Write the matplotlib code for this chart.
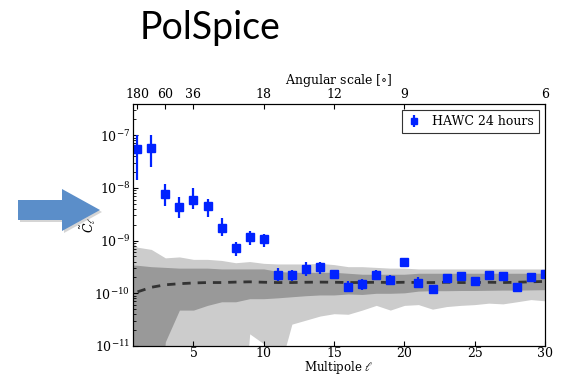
import matplotlib
matplotlib.use('Agg')
import matplotlib.pyplot as plt
from matplotlib.patches import FancyArrow
import numpy as np

# HAWC data points
ell = list(range(1, 31))
cl = [5.5e-8, 5.7e-8, 7.8e-9, 4.3e-9, 6.0e-9, 4.6e-9, 1.7e-9, 7.1e-10, 1.17e-9, 1.06e-9,
      2.2e-10, 2.2e-10, 2.9e-10, 3.1e-10, 2.3e-10, 1.34e-10, 1.48e-10, 2.2e-10, 1.78e-10, 3.9e-10,
      1.57e-10, 1.23e-10, 1.92e-10, 2.1e-10, 1.7e-10, 2.2e-10, 2.1e-10, 1.34e-10, 2.0e-10, 2.3e-10]
cl_hi = [1.0e-7, 1.0e-7, 1.2e-8, 6.6e-9, 9.9e-9, 6.2e-9, 2.7e-9, 9.5e-10, 1.5e-9, 1.34e-9,
         3.0e-10, 2.8e-10, 4.0e-10, 4.0e-10, 2.8e-10, 1.7e-10, 1.84e-10, 2.8e-10, 2.2e-10, 4.7e-10,
         2.0e-10, 1.4e-10, 2.3e-10, 2.5e-10, 2.0e-10, 2.5e-10, 2.5e-10, 1.55e-10, 2.4e-10, 2.6e-10]
cl_lo = [1.4e-8, 2.5e-8, 4.6e-9, 2.7e-9, 3.9e-9, 2.8e-9, 1.2e-9, 5.0e-10, 8.1e-10, 7.7e-10,
         1.7e-10, 1.7e-10, 2.1e-10, 2.3e-10, 1.9e-10, 1.04e-10, 1.15e-10, 1.8e-10, 1.45e-10, 3.4e-10,
         1.3e-10, 1.04e-10, 1.57e-10, 1.8e-10, 1.4e-10, 1.8e-10, 1.8e-10, 1.15e-10, 1.7e-10, 1.9e-10]

# isotropic expectation bands
ell_band = list(range(0, 31))
iso_mean = [8.5e-11, 1.06e-10, 1.3e-10, 1.45e-10, 1.52e-10, 1.57e-10, 1.6e-10, 1.6e-10, 1.63e-10, 1.65e-10,
            1.62e-10, 1.6e-10, 1.6e-10, 1.62e-10, 1.63e-10, 1.62e-10, 1.6e-10, 1.6e-10, 1.62e-10, 1.6e-10,
            1.62e-10, 1.6e-10, 1.6e-10, 1.62e-10, 1.6e-10, 1.6e-10, 1.62e-10, 1.6e-10, 1.62e-10, 1.65e-10, 1.68e-10]
up1 = [3.5e-10, 3.4e-10, 3.2e-10, 3.1e-10, 3.0e-10, 3.0e-10, 3.0e-10, 2.9e-10, 2.9e-10, 2.9e-10,
       2.9e-10, 2.6e-10, 2.5e-10, 2.5e-10, 2.5e-10, 2.5e-10, 2.4e-10, 2.3e-10, 2.3e-10, 2.3e-10,
       2.3e-10, 2.4e-10, 2.4e-10, 2.4e-10, 2.4e-10, 2.4e-10, 2.4e-10, 2.4e-10, 2.4e-10, 2.4e-10, 2.4e-10]
up2 = [1.5e-9, 7.5e-10, 6.8e-10, 4.7e-10, 4.9e-10, 4.4e-10, 4.4e-10, 4.2e-10, 3.8e-10, 4.0e-10,
       3.7e-10, 3.6e-10, 3.6e-10, 3.6e-10, 3.7e-10, 3.5e-10, 3.2e-10, 3.2e-10, 3.1e-10, 3.0e-10,
       3.0e-10, 2.9e-10, 2.9e-10, 2.9e-10, 2.9e-10, 2.9e-10, 2.9e-10, 2.9e-10, 2.9e-10, 2.9e-10, 2.9e-10]
dn1 = [1e-14, 1e-14, 1e-14, 1.2e-11, 4.8e-11, 4.8e-11, 5.9e-11, 6.9e-11, 6.9e-11, 7.9e-11,
       7.9e-11, 8.2e-11, 8.6e-11, 9.0e-11, 9.3e-11, 9.3e-11, 9.7e-11, 9.5e-11, 1.0e-10, 1.0e-10,
       1.02e-10, 1.1e-10, 1.12e-10, 1.12e-10, 1.13e-10, 1.13e-10, 1.14e-10, 1.15e-10, 1.15e-10, 1.16e-10, 1.17e-10]
dn2 = [1e-14, 1e-14, 1e-14, 1e-14, 1e-14, 1e-14, 1e-14, 1e-14, 1e-14, 1.7e-11,
       1.1e-11, 2.8e-12, 2.6e-11, 3.1e-11, 3.7e-11, 4.1e-11, 4.0e-11, 4.8e-11, 5.9e-11, 4.8e-11,
       5.9e-11, 6.1e-11, 5.0e-11, 5.6e-11, 5.9e-11, 6.1e-11, 6.5e-11, 6.3e-11, 6.9e-11, 7.6e-11, 7.2e-11]

top_ell = [1, 3, 5, 10, 15, 20, 30]
top_labels = ['180', '60', '36', '18', '12', '9', '6']

plt.rcParams['font.family'] = 'DejaVu Serif'
plt.rcParams['mathtext.fontset'] = 'dejavuserif'
plt.rcParams['font.size'] = 9

fig = plt.figure(figsize=(5.65, 3.75), dpi=100)
ax = fig.add_axes([0.2354, 0.0773, 0.7292, 0.6454])

cl = np.array(cl)
yerr = [cl - np.array(cl_lo), np.array(cl_hi) - cl]

ax.fill_between(ell_band, dn2, up2, color='#cccccc', lw=0)
ax.fill_between(ell_band, dn1, up1, color='#999999', lw=0)
ax.plot(ell_band, iso_mean, color='#333333', ls='--', lw=2, dashes=(3, 2.5))
ax.errorbar(ell, cl, yerr=yerr, fmt='s', color='#0022ff', ms=5.5, elinewidth=1.6,
            capsize=0, label='HAWC 24 hours')

ax.set_yscale('log')
ax.set_xlim(0.7, 30)
ax.set_ylim(1e-11, 3.9e-7)
ax.set_xticks([5, 10, 15, 20, 25, 30])
ax.tick_params(direction='in', which='both', top=False, right=False, pad=2)
ax.tick_params(axis='x', pad=1)
ax.set_xlabel(r'Multipole $\ell$', labelpad=-1, fontsize=8.5)
ax.set_ylabel(r'$\tilde{C}_\ell$', labelpad=-3)

ax2 = ax.twiny()
ax2.set_xlim(ax.get_xlim())
ax2.set_xticks(top_ell)
ax2.set_xticklabels(top_labels)
ax2.tick_params(direction='in', pad=2)
ax2.set_xlabel(r'Angular scale [$\circ$]', labelpad=3)

leg = ax.legend(loc='upper right', fancybox=False, framealpha=1, edgecolor='#333333',
                handlelength=1.2, borderpad=0.4, fontsize=9, markerscale=0.8)
leg.get_frame().set_linewidth(0.8)

fig.text(0.248, 0.925, 'PolSpice', fontsize=27, family='Lato', va='center', ha='left')

# slide arrow pointing at the y label
shadow = FancyArrow(0.20, 1.63, 0.82, 0, width=0.2, head_width=0.42, head_length=0.38,
                    length_includes_head=True, color='#888888', alpha=0.35, lw=0,
                    transform=fig.dpi_scale_trans)
arrow = FancyArrow(0.18, 1.65, 0.82, 0, width=0.2, head_width=0.42, head_length=0.38,
                   length_includes_head=True, color='#5b8ec9', lw=0,
                   transform=fig.dpi_scale_trans)
fig.patches.extend([shadow, arrow])

fig.savefig('out.png', dpi=100)
